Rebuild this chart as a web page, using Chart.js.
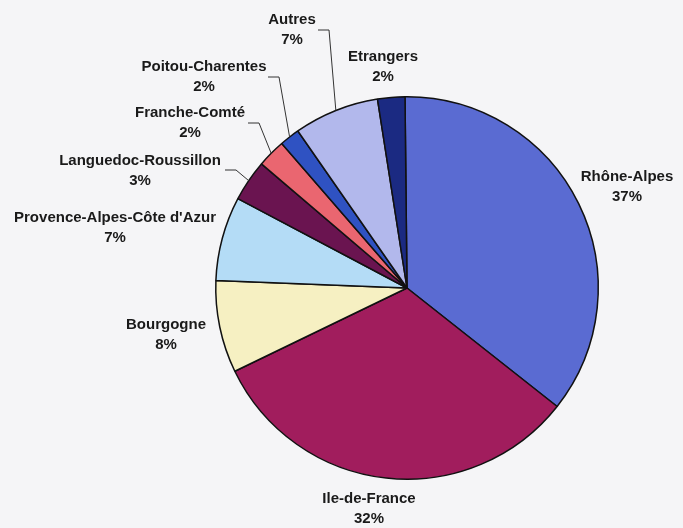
<!DOCTYPE html>
<html>
<head>
<meta charset="utf-8">
<script src="https://cdn.jsdelivr.net/npm/chart.js@4/dist/chart.umd.min.js"></script>
<style>
  html, body { margin: 0; padding: 0; background: #f5f5f7; }
  #wrap { width: 683px; height: 528px; }
</style>
</head>
<body>
<div id="wrap"><canvas id="pie-chart" width="683" height="528"></canvas></div>
<script>
// regions, clockwise from 12 o'clock
const regions = ['Rhône-Alpes', 'Ile-de-France', 'Bourgogne', "Provence-Alpes-Côte d'Azur",
  'Languedoc-Roussillon', 'Franche-Comté', 'Poitou-Charentes', 'Autres', 'Etrangers'];
// slice sizes
const shares = [35.8, 32.2, 7.8, 7.1, 3.5, 2.4, 1.7, 7.2, 2.3];
// percentages printed on the chart
const percentLabels = ['37%', '32%', '8%', '7%', '3%', '2%', '2%', '7%', '2%'];
const colors = ['#5a6bd2', '#a11d5d', '#f6f0c2', '#b4dcf6', '#6a1450', '#ea6670', '#2f52c2', '#b2b8ec', '#1b2a82'];

// label placement (text centre) and optional elbow leader line
const labelPos = [
  { x: 627, y: 177 },
  { x: 369, y: 499 },
  { x: 166, y: 325 },
  { x: 115, y: 218 },
  { x: 140, y: 161, line: [[225, 170], [236, 170]] },
  { x: 190, y: 113, line: [[248, 123], [259, 123]] },
  { x: 204, y: 67, line: [[268, 77], [279, 77]] },
  { x: 292, y: 20, line: [[318, 30], [329, 30]] },
  { x: 383, y: 57 }
];

const labelPlugin = {
  id: 'sliceLabels',
  afterDatasetsDraw(chart) {
    const ctx = chart.ctx;
    const arcs = chart.getDatasetMeta(0).data;
    ctx.save();
    ctx.strokeStyle = '#333';
    ctx.lineWidth = 1;
    arcs.forEach((arc, i) => {
      const p = labelPos[i];
      if (p.line) {
        const mid = (arc.startAngle + arc.endAngle) / 2;
        const ex = arc.x + Math.cos(mid) * arc.outerRadius;
        const ey = arc.y + Math.sin(mid) * arc.outerRadius;
        ctx.beginPath();
        ctx.moveTo(p.line[0][0], p.line[0][1]);
        ctx.lineTo(p.line[1][0], p.line[1][1]);
        ctx.lineTo(ex, ey);
        ctx.stroke();
      }
    });
    ctx.fillStyle = '#1a1a1a';
    ctx.font = 'bold 15px "Liberation Sans", Arial, sans-serif';
    ctx.textAlign = 'center';
    ctx.textBaseline = 'middle';
    arcs.forEach((arc, i) => {
      const p = labelPos[i];
      ctx.fillText(regions[i], p.x, p.y);
      ctx.fillText(percentLabels[i], p.x, p.y + 20);
    });
    ctx.restore();
  }
};

new Chart(document.getElementById('pie-chart'), {
  type: 'pie',
  data: {
    labels: regions,
    datasets: [{
      data: shares,
      backgroundColor: colors,
      borderColor: '#111',
      borderWidth: 1.5
    }]
  },
  options: {
    responsive: false,
    animation: false,
    rotation: -0.6,
    layout: { padding: { left: 215, right: 84, top: 96, bottom: 48 } },
    plugins: {
      legend: { display: false },
      tooltip: { enabled: false }
    }
  },
  plugins: [labelPlugin]
});
</script>
</body>
</html>
